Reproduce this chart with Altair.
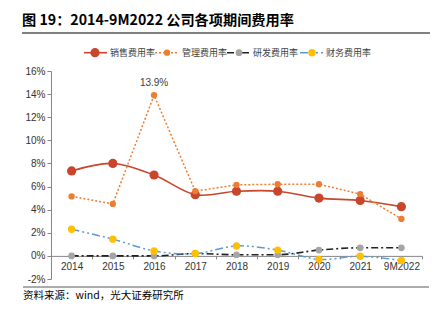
import altair as alt
import pandas as pd

years = ["2014", "2015", "2016", "2017", "2018", "2019", "2020", "2021", "9M2022"]
sales = [7.35, 8.0, 7.0, 5.3, 5.6, 5.6, 5.0, 4.8, 4.26]
admin = [5.15, 4.5, 13.9, 5.6, 6.15, 6.2, 6.2, 5.35, 3.2]
rd = [0.0, 0.0, 0.0, 0.2, 0.1, 0.1, 0.5, 0.7, 0.7]
fin = [2.3, 1.45, 0.43, 0.2, 0.86, 0.5, -0.3, -0.03, -0.4]
series_names = ["销售费用率", "管理费用率", "研发费用率", "财务费用率"]

W, H = 371, 208
YMIN, YMAX = -2, 16
CJK = "Noto Sans CJK SC"
LAT = "Liberation Sans"

xenc = alt.X(
    "year:N",
    sort=years,
    scale=alt.Scale(type="band", paddingInner=0, paddingOuter=0),
    axis=alt.Axis(
        title=None, labelAngle=0, offset=-(H * 2 / 18), tickBand="extent",
        tickSize=3, labelPadding=3, domainColor="#868686", tickColor="#868686",
        labelFont=LAT, labelFontSize=10, labelColor="#333333",
    ),
)
yenc = alt.Y(
    "v:Q",
    scale=alt.Scale(domain=[YMIN, YMAX], nice=False, zero=False),
    axis=alt.Axis(
        title=None, values=list(range(-2, 17, 2)), labelExpr="datum.value + '%'",
        grid=False, tickSize=4, labelPadding=2, domainColor="#868686",
        tickColor="#868686", labelFont=LAT, labelFontSize=10, labelColor="#333333",
    ),
)


def series(vals, line_color, dash, width, interp, pt_color, pt_size):
    df = pd.DataFrame({"year": years, "v": vals})
    base = alt.Chart(df)
    line_kw = dict(color=line_color, strokeWidth=width, interpolate=interp)
    if dash:
        line_kw["strokeDash"] = dash
    ln = base.mark_line(**line_kw).encode(x=xenc, y=yenc)
    pt = base.mark_circle(color=pt_color, size=pt_size, opacity=1).encode(x=xenc, y=yenc)
    return [ln, pt]


layers = []
layers += series(sales, "#C9452B", None, 1.6, "cardinal", "#C9452B", 85)
layers += series(admin, "#ED7D31", [2, 2], 1.5, "linear", "#ED7D31", 40)
layers += series(rd, "#222222", [7, 3, 2, 3], 1.6, "monotone", "#A5A5A5", 45)
layers += series(fin, "#5B9BD5", [8, 3, 2, 3, 2, 3], 1.5, "cardinal", "#FFC000", 55)

# data label for the peak
peak = pd.DataFrame({"year": ["2016"], "v": [13.9], "t": ["13.9%"]})
layers.append(
    alt.Chart(peak).mark_text(dy=-12, font=LAT, fontSize=10, color="#404040").encode(
        x=xenc, y=yenc, text="t:N"
    )
)

one = pd.DataFrame({"a": [0]})

# legend
LY = -18.3
legend_items = [
    (33, 56, 44, 59, "#C9452B", None, "#C9452B", 85),
    (104, 126, 116, 131, "#ED7D31", [2, 2], "#ED7D31", 40),
    (176, 201, 188, 202, "#222222", [7, 3, 2, 3], "#A5A5A5", 45),
    (249, 272, 261, 275, "#5B9BD5", [8, 3, 2, 3, 2, 3], "#FFC000", 55),
]
for (x1, x2, dx, tx, lc, dash, dc, ds), name in zip(legend_items, series_names):
    kw = dict(color=lc, strokeWidth=1.6)
    if dash:
        kw["strokeDash"] = dash
    layers.append(alt.Chart(one).mark_rule(**kw).encode(
        x=alt.value(x1), x2=alt.value(x2), y=alt.value(LY)))
    layers.append(alt.Chart(one).mark_circle(color=dc, size=ds, opacity=1).encode(
        x=alt.value(dx), y=alt.value(LY)))
    layers.append(alt.Chart(one).mark_text(
        text=name, align="left", baseline="middle", font=CJK, fontSize=9, color="#404040"
    ).encode(x=alt.value(tx), y=alt.value(LY)))

# title, separators, source
layers.append(alt.Chart(one).mark_text(
    text="图 19：2014-9M2022 公司各项期间费用率", align="left", baseline="middle",
    font=CJK, fontSize=14.2, fontWeight="bold", color="#000000"
).encode(x=alt.value(-29), y=alt.value(-50.3)))
layers.append(alt.Chart(one).mark_rule(color="#808080", strokeWidth=1.8).encode(
    x=alt.value(-29), x2=alt.value(379), y=alt.value(-38)))
layers.append(alt.Chart(one).mark_rule(color="#595959", strokeWidth=1).encode(
    x=alt.value(-28), x2=alt.value(378), y=alt.value(216)))
layers.append(alt.Chart(one).mark_text(
    text="资料来源：wind，光大证券研究所", align="left", baseline="middle",
    font=CJK, fontSize=10.5, color="#000000"
).encode(x=alt.value(-28), y=alt.value(224.5)))

chart = alt.layer(*layers).properties(
    width=W, height=H,
    autosize=alt.AutoSizeParams(type="none"),
    padding={"left": 51, "top": 71, "right": 13, "bottom": 42},
    background="white",
).configure_view(stroke=None)

chart.save("out.html", embed_options={"renderer": "svg", "actions": False})
